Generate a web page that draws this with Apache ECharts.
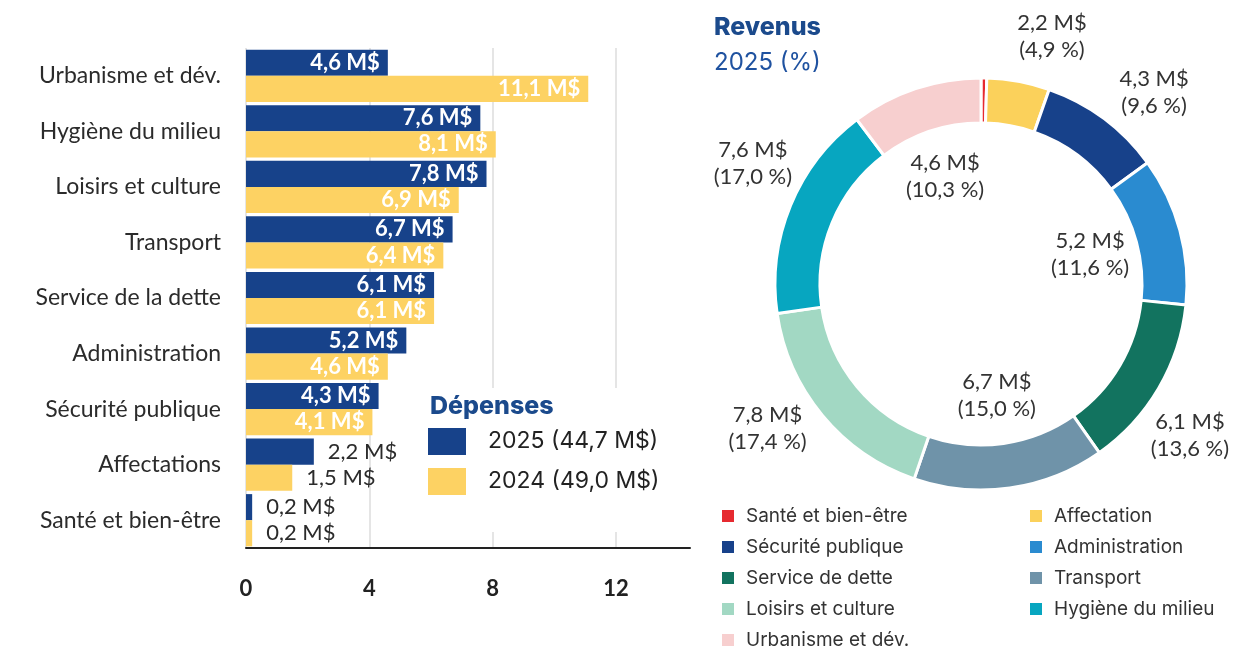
<!DOCTYPE html>
<html>
<head>
<meta charset="utf-8">
<script src="https://cdn.jsdelivr.net/npm/echarts@6.0.0/dist/echarts.min.js"></script>
<style>
  html, body { margin: 0; padding: 0; background: #fff; }
  #chart { width: 1251px; height: 649px; }
</style>
</head>
<body>
<div id="chart"></div>
<script>
  // Dépenses par poste (M$)
  const categories = ['Urbanisme et dév.', 'Hygiène du milieu', 'Loisirs et culture', 'Transport',
    'Service de la dette', 'Administration', 'Sécurité publique', 'Affectations', 'Santé et bien-être']
  const depenses2025 = [4.6, 7.6, 7.8, 6.7, 6.1, 5.2, 4.3, 2.2, 0.2]
  const depenses2024 = [11.1, 8.1, 6.9, 6.4, 6.1, 4.6, 4.1, 1.5, 0.2]
  const barNames = ['2025 (44,7 M$)', '2024 (49,0 M$)']

  // Revenus 2025
  const revenueNames = ['Santé et bien-être', 'Affectation', 'Sécurité publique', 'Administration',
    'Service de dette', 'Transport', 'Loisirs et culture', 'Hygiène du milieu', 'Urbanisme et dév.']
  const revenueValues = [0.2, 2.2, 4.3, 5.2, 6.1, 6.7, 7.8, 7.6, 4.6]
  const revenuePct = [0.4, 4.9, 9.6, 11.6, 13.6, 15.0, 17.4, 17.0, 10.3]

  const pieColors = ['#e62a30', '#fbd15b', '#17418a', '#2a8bd0', '#12735f', '#6f93a9', '#a2d8c3', '#07a6c0', '#f7cfcf']
  // which labels sit inside the hole, and which ones are hidden
  const innerLabels = ['Administration', 'Transport', 'Urbanisme et dév.']
  const hiddenLabels = ['Santé et bien-être']

  const labelFont = 'Lato, "Open Sans", sans-serif'
  const textFont = 'Inter, "Noto Sans", sans-serif'
  const fmt = v => v.toFixed(1).replace('.', ',')

  const barItem = v => v >= 3 ? v : {
    value: v,
    label: {position: 'right', color: '#2b2b2b', fontWeight: 'normal', distance: 14}
  }

  const barLabel = {
    show: true,
    position: 'insideRight',
    distance: 8,
    color: '#fff',
    fontWeight: 'bold',
    fontSize: 22,
    fontFamily: labelFont,
    formatter: p => fmt(p.value) + ' M$'
  }

  const pieLabel = i => fmt(revenueValues[i]) + ' M$\n(' + fmt(revenuePct[i]) + ' %)'

  const labelSeries = (radius, inner, startAngle) => ({
    type: 'pie',
    center: [981, 284],
    radius: [0, radius],
    startAngle: startAngle,
    silent: true,
    emphasis: {disabled: true},
    itemStyle: {color: 'rgba(0,0,0,0)'},
    labelLine: {show: false},
    label: {
      position: 'inside',
      fontFamily: labelFont,
      fontSize: 22,
      lineHeight: 27,
      color: '#333',
      formatter: p => pieLabel(p.dataIndex)
    },
    data: revenueNames.map((n, i) => ({
      name: n,
      value: revenueValues[i],
      label: {show: !hiddenLabels.includes(n) && innerLabels.includes(n) === inner}
    }))
  })

  const pieLegend = (names, left) => ({
    data: names,
    orient: 'vertical',
    left: left,
    top: 506,
    height: 200,
    padding: 0,
    icon: 'rect',
    itemWidth: 14,
    itemHeight: 14,
    itemGap: 11,
    selectedMode: false,
    textStyle: {fontFamily: textFont, fontSize: 19, lineHeight: 20, color: '#333', padding: [0, 0, 0, 6]}
  })

  const myChart = echarts.init(document.getElementById('chart'))
  const option = {
    animation: false,
    title: [
      {
        text: 'Dépenses',
        left: 425,
        top: 389,
        z: 10,
        textStyle: {fontFamily: textFont, fontWeight: 800, fontSize: 25, color: '#1b4a8c'}
      },
      {
        text: 'Revenus',
        left: 709,
        top: 10,
        textStyle: {fontFamily: textFont, fontWeight: 800, fontSize: 25, color: '#1b4a8c'}
      },
      {
        text: '2025 (%)',
        left: 709,
        top: 46,
        textStyle: {fontFamily: textFont, fontWeight: 400, fontSize: 24, color: '#1f52a0'}
      }
    ],
    legend: [
      {
        data: barNames,
        orient: 'vertical',
        left: 412,
        top: 388,
        padding: [40, 44, 37, 16],
        backgroundColor: '#fff',
        icon: 'rect',
        itemWidth: 38,
        itemHeight: 27,
        itemGap: 13,
        selectedMode: false,
        textStyle: {fontFamily: textFont, fontSize: 23, color: '#222', padding: [0, 0, 0, 17]}
      },
      pieLegend(revenueNames.filter((n, i) => i % 2 === 0), 720),
      pieLegend(revenueNames.filter((n, i) => i % 2 === 1), 1028)
    ],
    grid: {left: 246, right: 561, top: 48, bottom: 101},
    xAxis: {
      type: 'value',
      min: 0,
      max: 14.4,
      interval: 4,
      axisLine: {show: true, lineStyle: {color: '#222', width: 2}},
      axisTick: {show: false},
      axisLabel: {
        margin: 30,
        showMaxLabel: false,
        fontFamily: labelFont,
        fontWeight: 'bold',
        fontSize: 22,
        color: '#222',
        formatter: v => (v % 4 === 0 ? v : '')
      },
      splitLine: {show: true, showMaxLine: false, lineStyle: {color: '#dcdcdc', width: 1.5}}
    },
    yAxis: {
      type: 'category',
      data: categories,
      inverse: true,
      axisLine: {show: false},
      axisTick: {show: false},
      axisLabel: {margin: 25, fontFamily: labelFont, fontSize: 23, color: '#2b2b2b'}
    },
    series: [
      {
        name: barNames[0],
        type: 'bar',
        barGap: '0%',
        barCategoryGap: '6%',
        itemStyle: {color: '#17428a'},
        label: barLabel,
        data: depenses2025.map(barItem)
      },
      {
        name: barNames[1],
        type: 'bar',
        itemStyle: {color: '#fdd263'},
        label: barLabel,
        data: depenses2024.map(barItem)
      },
      {
        type: 'pie',
        center: [981, 284],
        radius: [161, 206],
        startAngle: 90,
        silent: true,
        emphasis: {disabled: true},
        label: {show: false},
        labelLine: {show: false},
        itemStyle: {borderColor: '#fff', borderWidth: 3},
        data: revenueNames.map((n, i) => ({name: n, value: revenueValues[i], itemStyle: {color: pieColors[i]}}))
      },
      labelSeries(220, true, 90),
      labelSeries(510, false, 84.5)
    ]
  }
  myChart.setOption(option)
</script>
</body>
</html>
